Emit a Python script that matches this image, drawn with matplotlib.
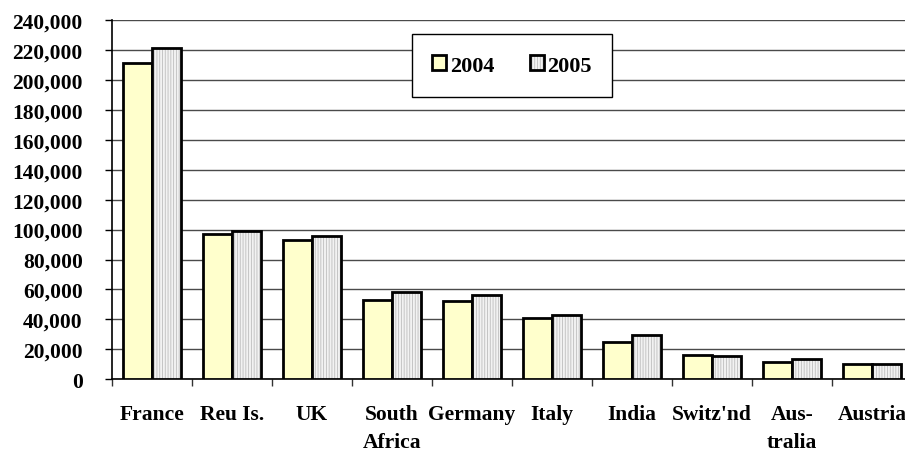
import matplotlib
matplotlib.use('Agg')
import matplotlib.pyplot as plt
import numpy as np
from matplotlib.patches import Patch, Rectangle
from matplotlib.legend_handler import HandlerTuple
from matplotlib.ticker import FuncFormatter, FixedLocator

# data
countries = ['France', 'Reu Is.', 'UK', 'South\nAfrica', 'Germany', 'Italy',
             'India', "Switz'nd", 'Aus-\ntralia', 'Austria']
vals_2004 = [211000, 97000, 93000, 53000, 52000, 41000, 24700, 16200, 11300, 10200]
vals_2005 = [221000, 99000, 96000, 58500, 56000, 43200, 29800, 15600, 13400, 10200]
years = ['2004', '2005']
y_ticks = list(range(0, 240001, 20000))

plt.rcParams['font.family'] = ['Liberation Serif', 'DejaVu Serif']
plt.rcParams['font.weight'] = 'bold'
plt.rcParams['hatch.linewidth'] = 0.6
plt.rcParams['hatch.color'] = '#BDBDBD'

fs = 15.5
fig = plt.figure(figsize=(9.05, 4.52), dpi=100)
ax = fig.add_axes([112 / 905, 71.7 / 452, 800 / 905, 359.3 / 452])

x = np.arange(len(countries))
w = 0.357
c04 = '#FFFFCC'
c05 = '#F2F2F2'

ax.bar(x - w / 2, vals_2004, w, color=c04, edgecolor='black', linewidth=2, zorder=3)
# striped fill first, black outline on top
ax.bar(x + w / 2, vals_2005, w, color=c05, edgecolor=None, linewidth=0,
       hatch='||||||', zorder=3)
ax.bar(x + w / 2, vals_2005, w, fill=False, edgecolor='black', linewidth=2, zorder=4)

ax.set_xlim(-0.5, len(countries) - 0.5)
ax.set_ylim(0, 240000)
ax.yaxis.set_major_locator(FixedLocator(y_ticks))
ax.yaxis.set_major_formatter(FuncFormatter(lambda v, p: f'{int(v):,}'))
ax.grid(axis='y', color='#4a4a4a', linewidth=1.0, zorder=0)
ax.set_axisbelow(True)

ax.set_xticks(x)
ax.set_xticklabels(countries, fontsize=fs, fontweight='bold', linespacing=1.5)
ax.set_xticks(np.arange(len(countries) + 1) - 0.5, minor=True)
ax.tick_params(axis='x', which='major', length=0, pad=18)
ax.tick_params(axis='x', which='minor', length=5, width=1, color='#333333', direction='out')
ax.tick_params(axis='y', length=5, width=1, direction='out', pad=16, labelsize=fs)
for lab in ax.get_yticklabels():
    lab.set_fontweight('bold')

for s in ['top', 'right']:
    ax.spines[s].set_visible(False)
ax.spines['left'].set_linewidth(1.2)
ax.spines['bottom'].set_linewidth(1.2)

# legend with a hand-placed frame
h04 = Patch(facecolor=c04, edgecolor='black', linewidth=2)
h05 = (Patch(facecolor=c05, edgecolor=None, linewidth=0, hatch='||||||'),
       Patch(fill=False, edgecolor='black', linewidth=2))
fig.patches.append(Rectangle((412 / 905, 1 - 98 / 452), 200 / 905, 63 / 452,
                             transform=fig.transFigure, facecolor='white',
                             edgecolor='black', linewidth=1, zorder=5))
leg = fig.legend([h04, h05], years, loc='center', bbox_to_anchor=(512 / 905, 1 - 66.5 / 452),
                 ncol=2, frameon=False, prop={'size': fs + 0.5, 'weight': 'bold'},
                 handlelength=0.65, handleheight=0.65, handletextpad=0.15,
                 columnspacing=1.6, handler_map={tuple: HandlerTuple(ndivide=1)})
leg.set_zorder(6)

fig.savefig('out.png', dpi=100)
